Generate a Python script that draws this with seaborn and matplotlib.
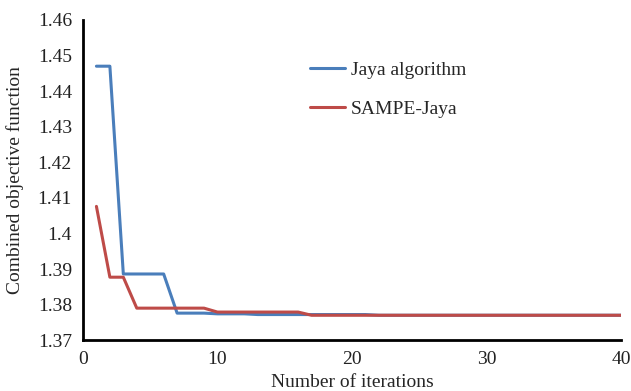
import matplotlib
matplotlib.use("Agg")
import matplotlib.pyplot as plt
import seaborn as sns
import pandas as pd
import numpy as np

iterations = list(range(1, 41))
jaya = [1.447, 1.447, 1.3886, 1.3886, 1.3886, 1.3886, 1.3776, 1.3776, 1.3776, 1.3774,
        1.3774, 1.3774, 1.3772, 1.3772, 1.3772, 1.3772, 1.3772, 1.3772, 1.3772, 1.3772,
        1.3772, 1.377, 1.377, 1.377, 1.377, 1.377, 1.377, 1.377, 1.377, 1.377,
        1.377, 1.377, 1.377, 1.377, 1.377, 1.377, 1.377, 1.377, 1.377, 1.377]
sampe = [1.4076, 1.3877, 1.3877, 1.379, 1.379, 1.379, 1.379, 1.379, 1.379, 1.3779,
         1.3779, 1.3779, 1.3779, 1.3779, 1.3779, 1.3779, 1.377, 1.377, 1.377, 1.377,
         1.377, 1.377, 1.377, 1.377, 1.377, 1.377, 1.377, 1.377, 1.377, 1.377,
         1.377, 1.377, 1.377, 1.377, 1.377, 1.377, 1.377, 1.377, 1.377, 1.377]
series_names = ["Jaya algorithm", "SAMPE-Jaya"]
colors = ["#4A7EBB", "#BE4B48"]
xticks = [0, 10, 20, 30, 40]
yticks = [1.37, 1.38, 1.39, 1.40, 1.41, 1.42, 1.43, 1.44, 1.45, 1.46]
ytick_labels = ["1.37", "1.38", "1.39", "1.4", "1.41", "1.42", "1.43", "1.44", "1.45", "1.46"]

df = pd.DataFrame({
    "iter": iterations * 2,
    "value": jaya + sampe,
    "series": [series_names[0]] * len(iterations) + [series_names[1]] * len(iterations),
})

sns.set_style("white")
plt.rcParams["font.family"] = ["Liberation Serif", "DejaVu Serif"]

fig = plt.figure(figsize=(6.31, 3.91), dpi=100)
ax = fig.add_axes([0.1315, 0.130, 0.8525, 0.819])
sns.lineplot(data=df, x="iter", y="value", hue="series", palette=colors,
             linewidth=2.2, ax=ax, legend=True)

ax.set_xlim(0, 40)
ax.set_ylim(1.37, 1.46)
ax.set_xticks(xticks)
ax.set_yticks(yticks)
ax.set_yticklabels(ytick_labels)
ax.tick_params(axis="both", labelsize=14, length=0, pad=8, colors="#222222")
for s in ["top", "right"]:
    ax.spines[s].set_visible(False)
for s in ["left", "bottom"]:
    ax.spines[s].set_color("black")
    ax.spines[s].set_linewidth(2)
ax.set_xlabel("Number of iterations", fontsize=14, labelpad=4)
ax.set_ylabel("Combined objective function", fontsize=14, labelpad=10)

leg = ax.legend(loc="upper left", bbox_to_anchor=(0.39, 0.925), frameon=False,
                fontsize=14, handlelength=1.8, labelspacing=1.1, handletextpad=0.3)

fig.savefig("out.png", dpi=100)
